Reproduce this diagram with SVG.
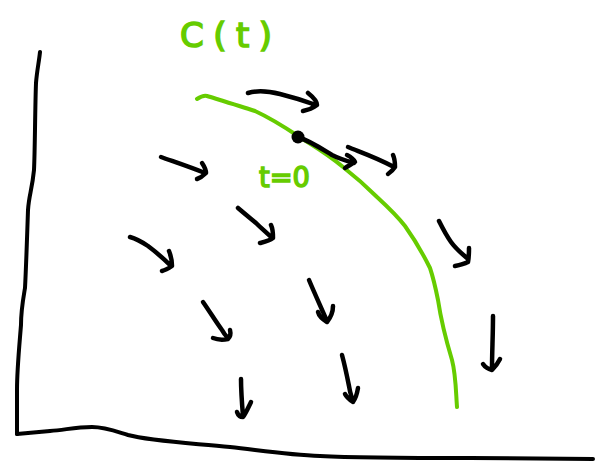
<svg xmlns="http://www.w3.org/2000/svg" width="596" height="461" viewBox="0 0 596 461">
  <style>
    .ink { fill: none; stroke: #000; stroke-width: 4.5; stroke-linecap: round; stroke-linejoin: round; }
    .axis { fill: none; stroke: #000; stroke-width: 4; stroke-linecap: round; stroke-linejoin: round; }
    .curve { fill: none; stroke: #66cc00; stroke-width: 4; stroke-linecap: round; stroke-linejoin: round; }
    .lbl { fill: #66cc00; stroke: #66cc00; stroke-width: 1.6; font-family: "DejaVu Sans", "Liberation Sans", sans-serif; }
  </style>
  <rect width="596" height="461" fill="#fff"/>

  <!-- axes -->
  <g id="axes">
    <path class="axis" d="M40,52 C39,62 37,70 36,83 C35,110 35,150 34,170 C32,190 29,195 28,210 C27,240 26,270 25,288 C23,300 21,310 21,325 C19,350 17,370 17,390 L17,434"/>
    <path class="axis" d="M17,434 L50,431 C65,430 75,427 92,427 C105,427 115,431 128,435 C150,441 190,443 230,447 C265,451 290,455 320,456 C360,458 420,458 470,458 L593,459"/>
  </g>

  <!-- trajectory c(t) -->
  <g id="trajectory">
    <path class="curve" d="M197,99 C200,97 203,95 207,96 C220,100 240,106 255,111 C268,117 283,126 298,136 C310,144 325,152 343,167 C357,178 367,187 377,197 C390,209 398,217 405,226 C415,240 422,252 430,268 C434,280 436,290 438,300 C441,320 446,340 452,360 C456,375 456,395 457,407"/>
  </g>

  <!-- vector field arrows -->
  <g id="field">
    <path class="ink" d="M248,93 C258,90 268,91 280,94 C292,97 305,101 316,105 M308,93 C313,97 317,101 317,105 C313,108 308,110 303,111"/>
    <path class="ink" d="M298,137 C310,141 322,149 332,155 C340,159 347,161 354,163 M347,155 C351,157 354,160 355,162 C352,164 348,166 345,168"/>
    <path class="ink" d="M348,147 C360,152 375,157 392,166 M393,155 C395,159 395,163 395,167 C393,170 391,172 388,174"/>
    <path class="ink" d="M161,157 C175,162 190,167 205,173 M202,163 C204,166 206,170 206,173 C203,176 200,178 197,179"/>
    <path class="ink" d="M130,237 C137,239 142,242 148,246 C156,252 164,259 171,266 M169,251 C171,256 172,261 172,266 C169,268 166,270 162,271"/>
    <path class="ink" d="M238,208 C245,214 250,218 256,223 C262,229 267,233 272,238 M271,225 C273,229 273,234 273,238 C269,241 264,242 260,243"/>
    <path class="ink" d="M439,221 C443,229 446,235 451,242 C456,249 461,253 467,258 M469,248 C469,253 469,257 468,262 C464,264 460,265 455,266"/>
    <path class="ink" d="M203,302 C210,312 216,322 222,330 C224,334 226,336 228,338 M230,330 C231,334 230,337 228,339 C223,340 218,340 213,338"/>
    <path class="ink" d="M309,280 C314,292 320,305 327,321 M333,306 C333,312 331,317 327,322 C322,319 319,316 318,312"/>
    <path class="ink" d="M241,379 C241,390 242,404 243,416 M251,402 C248,408 246,413 243,417 C240,417 238,415 237,412"/>
    <path class="ink" d="M342,355 C345,366 347,376 349,386 C350,393 352,398 353,402 M358,388 C357,394 356,398 353,402 C350,400 347,398 345,394"/>
    <path class="ink" d="M493,316 C493,335 492,352 492,369 M500,359 C498,363 495,367 492,370 C488,369 485,367 483,364"/>
    <circle cx="298" cy="137" r="6.5" fill="#000"/>
  </g>

  <!-- labels -->
  <g id="labels">
    <text class="lbl" x="180" y="47" font-size="34" textLength="92" lengthAdjust="spacing">C(t)</text>
    <text class="lbl" x="259" y="187" font-size="29" textLength="51" lengthAdjust="spacingAndGlyphs">t=0</text>
  </g>
</svg>
